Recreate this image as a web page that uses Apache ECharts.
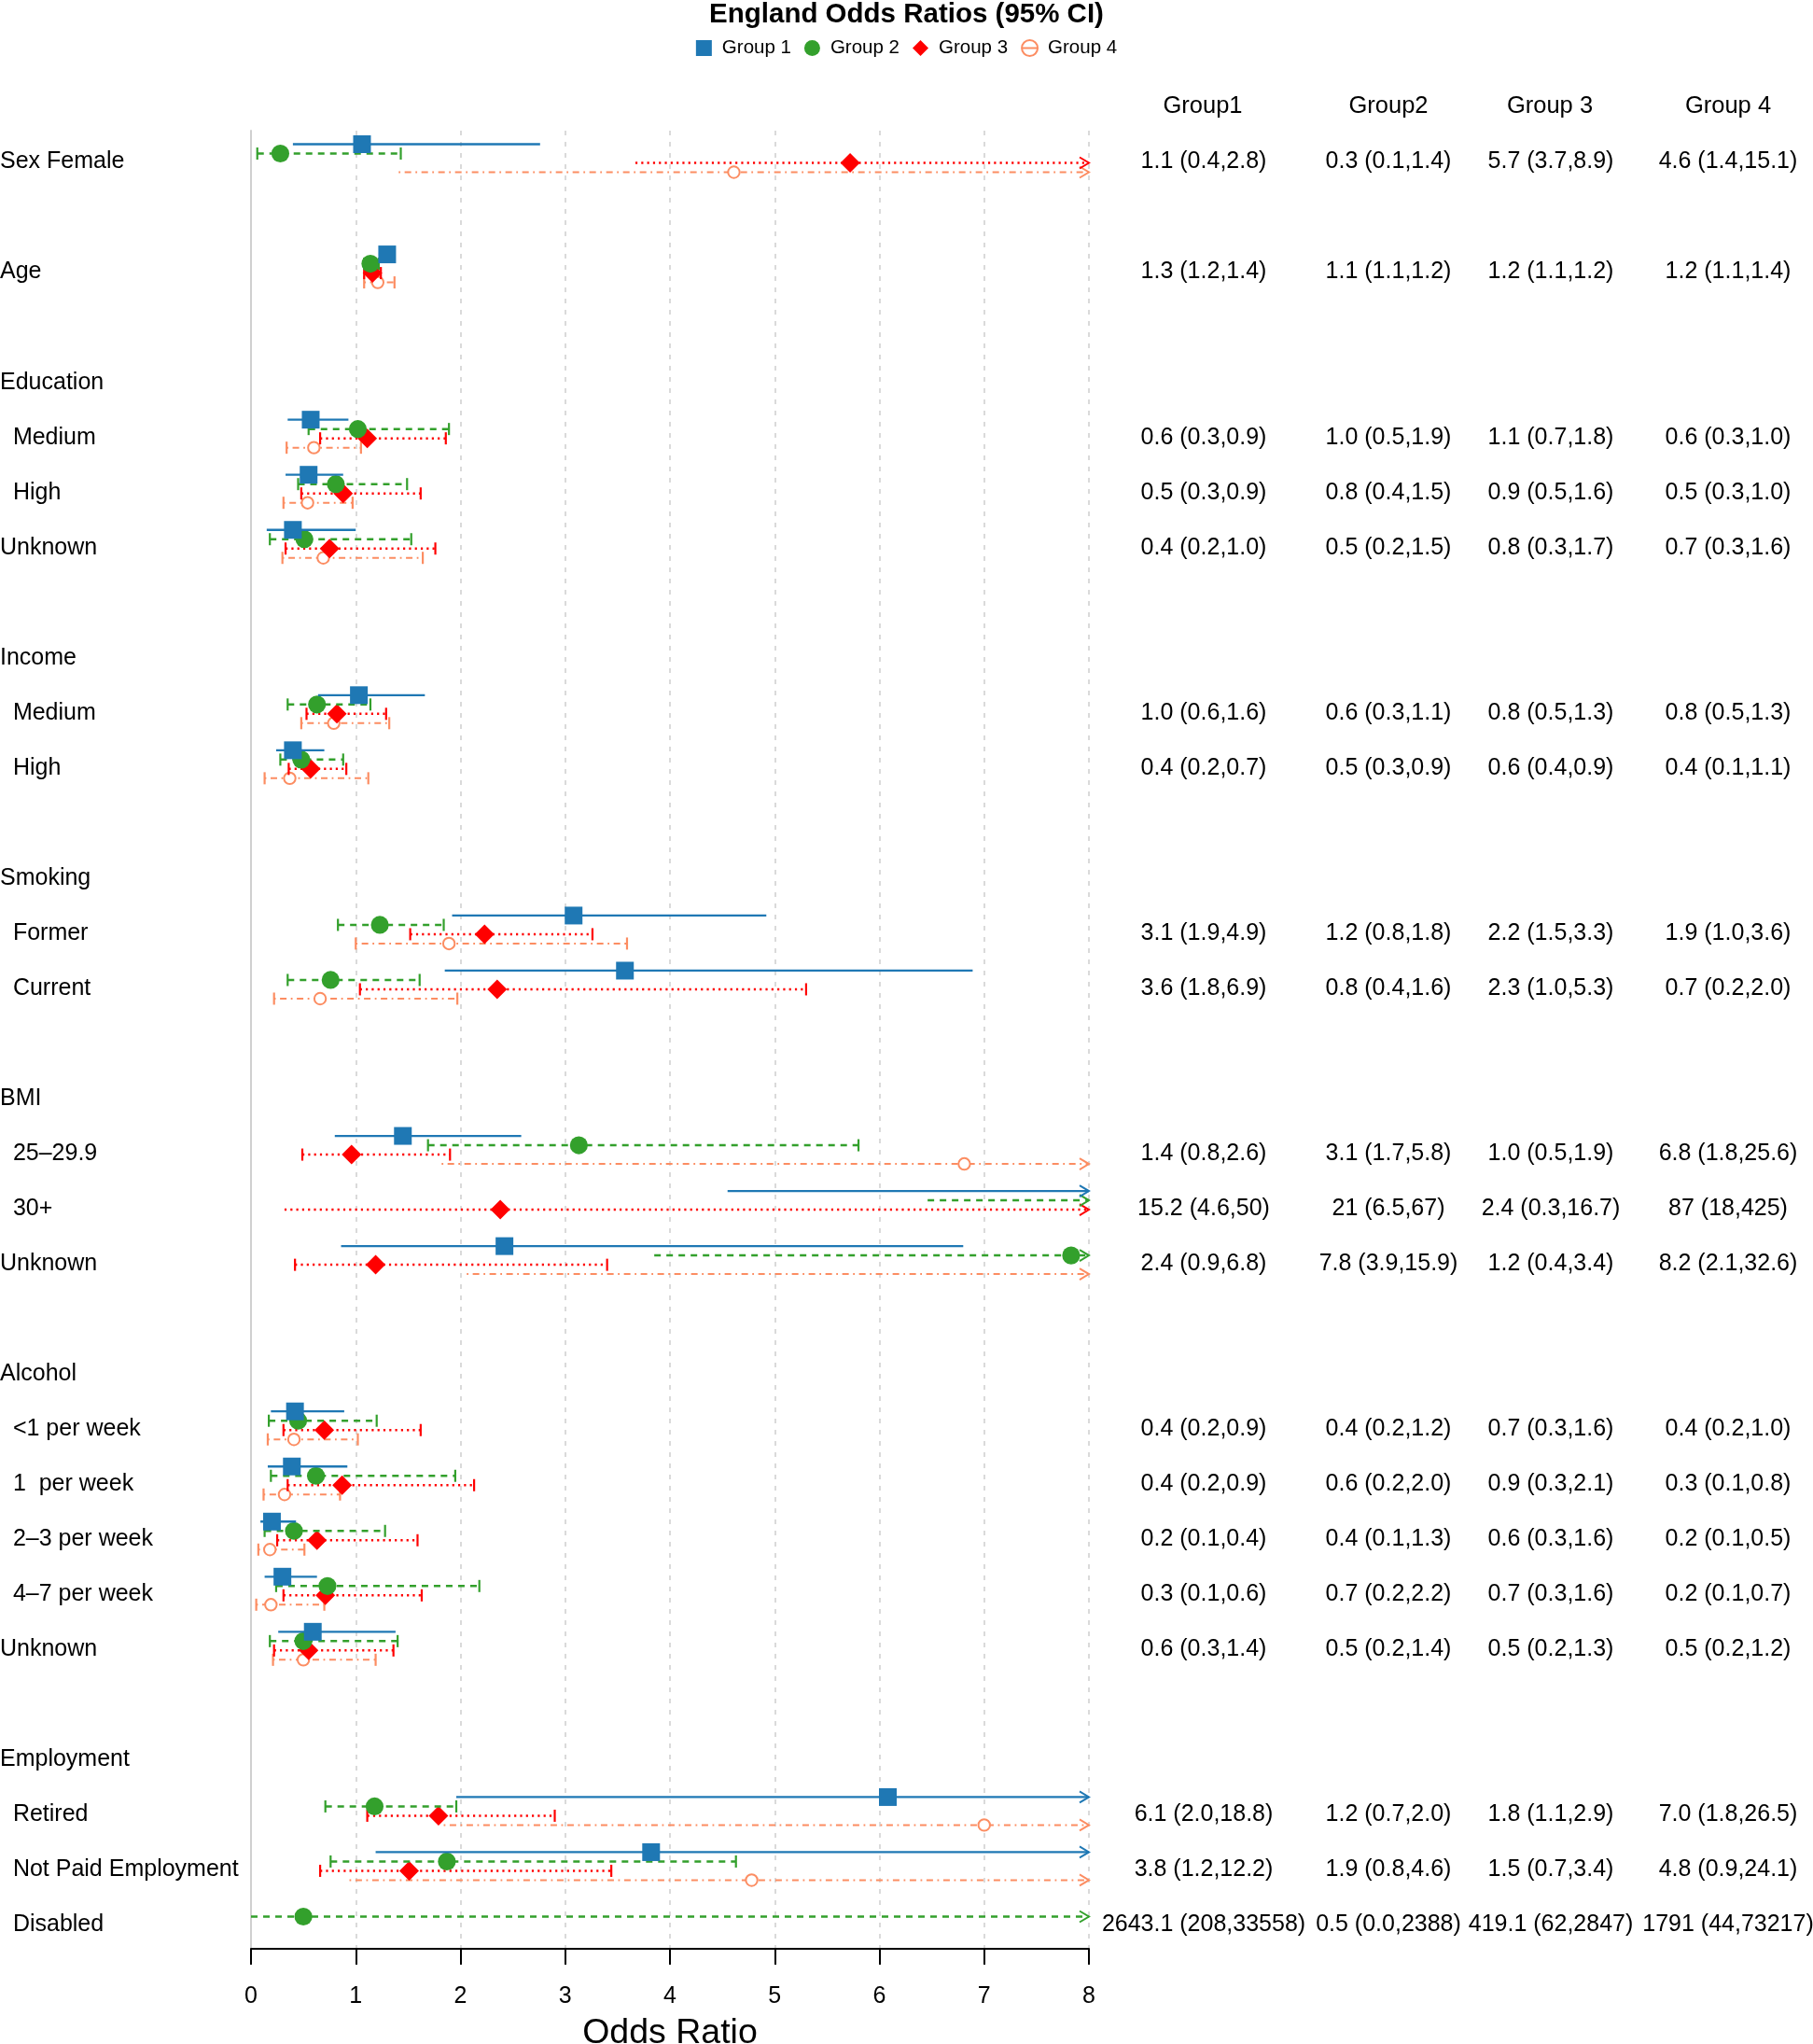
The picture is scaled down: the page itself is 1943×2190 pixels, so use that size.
<!DOCTYPE html>
<html><head><meta charset="utf-8">
<script src="https://cdn.jsdelivr.net/npm/echarts@6/dist/echarts.min.js"></script>
<style>html,body{margin:0;padding:0;background:#fff;overflow:hidden}#c{width:1943px;height:2190px}</style>
</head><body><div id="c"></div>
<script>
// ---------- DATA ----------
const rowLabels = ['Sex Female','','Age','','Education','  Medium','  High','Unknown','','Income','  Medium','  High','','Smoking','  Former','  Current','','BMI','  25\u201329.9','  30+','Unknown','','Alcohol','  <1 per week','  1  per week','  2\u20133 per week','  4\u20137 per week','Unknown','','Employment','  Retired','  Not Paid Employment','  Disabled'];
const groupNames = ['Group 1','Group 2','Group 3','Group 4'];
const tableHeaders = ['Group1','Group2','Group 3','Group 4'];
const xTicks = [0,1,2,3,4,5,6,7,8];

const g1Est = [1.06,null,1.30,null,null,0.57,0.55,0.40,null,null,1.03,0.40,null,null,3.08,3.57,null,null,1.45,15.2,2.42,null,null,0.42,0.39,0.20,0.30,0.59,null,null,6.08,3.82,2643.1];
const g1Lo  = [0.40,null,1.22,null,null,0.35,0.33,0.15,null,null,0.64,0.24,null,null,1.92,1.85,null,null,0.80,4.55,0.86,null,null,0.19,0.16,0.09,0.13,0.26,null,null,1.96,1.19,208];
const g1Hi  = [2.76,null,1.38,null,null,0.93,0.88,1.00,null,null,1.66,0.70,null,null,4.92,6.89,null,null,2.58,50,6.80,null,null,0.89,0.92,0.43,0.63,1.38,null,null,18.8,12.2,33558];

const g2Est = [0.28,null,1.14,null,null,1.02,0.81,0.51,null,null,0.63,0.48,null,null,1.23,0.76,null,null,3.13,21,7.83,null,null,0.45,0.62,0.41,0.73,0.50,null,null,1.18,1.87,0.50];
const g2Lo  = [0.06,null,1.08,null,null,0.55,0.45,0.18,null,null,0.35,0.28,null,null,0.83,0.35,null,null,1.69,6.46,3.85,null,null,0.17,0.19,0.13,0.24,0.18,null,null,0.71,0.76,0.0];
const g2Hi  = [1.43,null,1.22,null,null,1.89,1.49,1.53,null,null,1.14,0.88,null,null,1.84,1.61,null,null,5.80,67,15.9,null,null,1.20,1.95,1.28,2.18,1.40,null,null,1.96,4.63,2388];

const g3Est = [5.72,null,1.16,null,null,1.11,0.88,0.75,null,null,0.82,0.57,null,null,2.23,2.35,null,null,0.96,2.38,1.19,null,null,0.70,0.87,0.63,0.71,0.55,null,null,1.79,1.51,419.1];
const g3Lo  = [3.67,null,1.08,null,null,0.66,0.48,0.33,null,null,0.53,0.36,null,null,1.52,1.04,null,null,0.49,0.32,0.42,null,null,0.31,0.35,0.25,0.31,0.22,null,null,1.11,0.66,62];
const g3Hi  = [8.9,null,1.24,null,null,1.86,1.62,1.76,null,null,1.29,0.91,null,null,3.26,5.30,null,null,1.90,16.7,3.40,null,null,1.62,2.13,1.59,1.63,1.36,null,null,2.90,3.44,2847];

const g4Est = [4.61,null,1.21,null,null,0.60,0.54,0.69,null,null,0.79,0.37,null,null,1.89,0.66,null,null,6.81,87,8.2,null,null,0.41,0.32,0.18,0.19,0.50,null,null,7.00,4.78,1791];
const g4Lo  = [1.41,null,1.08,null,null,0.34,0.31,0.30,null,null,0.48,0.13,null,null,1.00,0.22,null,null,1.82,18,2.06,null,null,0.16,0.12,0.07,0.05,0.21,null,null,1.84,0.94,44];
const g4Hi  = [15.1,null,1.37,null,null,1.05,0.97,1.64,null,null,1.32,1.12,null,null,3.59,1.97,null,null,25.6,425,32.6,null,null,1.02,0.85,0.51,0.70,1.19,null,null,26.5,24.1,73217];

const col1 = ['1.1 (0.4,2.8)','','1.3 (1.2,1.4)','','','0.6 (0.3,0.9)','0.5 (0.3,0.9)','0.4 (0.2,1.0)','','','1.0 (0.6,1.6)','0.4 (0.2,0.7)','','','3.1 (1.9,4.9)','3.6 (1.8,6.9)','','','1.4 (0.8,2.6)','15.2 (4.6,50)','2.4 (0.9,6.8)','','','0.4 (0.2,0.9)','0.4 (0.2,0.9)','0.2 (0.1,0.4)','0.3 (0.1,0.6)','0.6 (0.3,1.4)','','','6.1 (2.0,18.8)','3.8 (1.2,12.2)','2643.1 (208,33558)'];
const col2 = ['0.3 (0.1,1.4)','','1.1 (1.1,1.2)','','','1.0 (0.5,1.9)','0.8 (0.4,1.5)','0.5 (0.2,1.5)','','','0.6 (0.3,1.1)','0.5 (0.3,0.9)','','','1.2 (0.8,1.8)','0.8 (0.4,1.6)','','','3.1 (1.7,5.8)','21 (6.5,67)','7.8 (3.9,15.9)','','','0.4 (0.2,1.2)','0.6 (0.2,2.0)','0.4 (0.1,1.3)','0.7 (0.2,2.2)','0.5 (0.2,1.4)','','','1.2 (0.7,2.0)','1.9 (0.8,4.6)','0.5 (0.0,2388)'];
const col3 = ['5.7 (3.7,8.9)','','1.2 (1.1,1.2)','','','1.1 (0.7,1.8)','0.9 (0.5,1.6)','0.8 (0.3,1.7)','','','0.8 (0.5,1.3)','0.6 (0.4,0.9)','','','2.2 (1.5,3.3)','2.3 (1.0,5.3)','','','1.0 (0.5,1.9)','2.4 (0.3,16.7)','1.2 (0.4,3.4)','','','0.7 (0.3,1.6)','0.9 (0.3,2.1)','0.6 (0.3,1.6)','0.7 (0.3,1.6)','0.5 (0.2,1.3)','','','1.8 (1.1,2.9)','1.5 (0.7,3.4)','419.1 (62,2847)'];
const col4 = ['4.6 (1.4,15.1)','','1.2 (1.1,1.4)','','','0.6 (0.3,1.0)','0.5 (0.3,1.0)','0.7 (0.3,1.6)','','','0.8 (0.5,1.3)','0.4 (0.1,1.1)','','','1.9 (1.0,3.6)','0.7 (0.2,2.0)','','','6.8 (1.8,25.6)','87 (18,425)','8.2 (2.1,32.6)','','','0.4 (0.2,1.0)','0.3 (0.1,0.8)','0.2 (0.1,0.5)','0.2 (0.1,0.7)','0.5 (0.2,1.2)','','','7.0 (1.8,26.5)','4.8 (0.9,24.1)','1791 (44,73217)'];

// ---------- STYLE ----------
const FONT = '"Liberation Sans", Arial, Helvetica, sans-serif';
const COLORS = ['#1F78B4','#33A02C','#FF0000','#FC8D62'];
const LW = [2.3, 2.5, 2.5, 2];
const DASH = [null, [7,6], [2.2,4.1], [1.8,4.6,7,4.6]];
const CAPS = [false, true, true, true];
const XMAX = 8;
const NROWS = rowLabels.length;
const OFFSET_STEP = 0.1694;
const GRID = {left:269, right:776, top:140, bottom:102};
const TEXT_DY = 4;
const COL_CENTERS = [1290, 1488, 1662, 1852];
const HEAD_CENTERS = [1289, 1488, 1661, 1852];
const PLOT_RIGHT = 1943 - GRID.right;

const groups = [
  {est:g1Est, lo:g1Lo, hi:g1Hi},
  {est:g2Est, lo:g2Lo, hi:g2Hi},
  {est:g3Est, lo:g3Lo, hi:g3Hi},
  {est:g4Est, lo:g4Lo, hi:g4Hi}
];

function makeRender(g) {
  const color = COLORS[g];
  return function (params, api) {
    const row = api.value(0), est = api.value(1), lo = api.value(2), hi = api.value(3);
    const yv = row + (g - 1.5) * OFFSET_STEP;
    const children = [];
    const lineStyle = {stroke: color, lineWidth: LW[g], fill: null};
    if (DASH[g]) lineStyle.lineDash = DASH[g];
    if (lo <= XMAX) {
      const p1 = api.coord([Math.max(lo, 0), yv]);
      const p2 = api.coord([Math.min(hi, XMAX), yv]);
      children.push({type:'line', shape:{x1:p1[0], y1:p1[1], x2:p2[0], y2:p2[1]}, style: lineStyle});
      if (hi > XMAX) {
        children.push({type:'polyline', shape:{points:[[p2[0]-10, p2[1]-6],[p2[0], p2[1]],[p2[0]-10, p2[1]+6]]},
          style:{stroke: color, lineWidth: 2, fill: null}});
      } else if (CAPS[g]) {
        [p1, p2].forEach(function (p) {
          children.push({type:'line', shape:{x1:p[0], y1:p[1]-6.5, x2:p[0], y2:p[1]+6.5},
            style:{stroke: color, lineWidth: 2.2}});
        });
      }
    }
    if (est <= XMAX) {
      const c = api.coord([est, yv]);
      if (g === 0) {
        children.push({type:'rect', shape:{x:c[0]-9.5, y:c[1]-9.5, width:19, height:19}, style:{fill: color}});
      } else if (g === 1) {
        children.push({type:'circle', shape:{cx:c[0], cy:c[1], r:9.6}, style:{fill: color}});
      } else if (g === 2) {
        children.push({type:'polygon', shape:{points:[[c[0], c[1]-10.5],[c[0]+10.5, c[1]],[c[0], c[1]+10.5],[c[0]-10.5, c[1]]]}, style:{fill: color}});
      } else {
        children.push({type:'circle', shape:{cx:c[0], cy:c[1], r:6.2}, style:{fill: '#fff', stroke: color, lineWidth: 2}});
      }
    }
    return {type:'group', children: children};
  };
}

const series = [];
for (let g = 3; g >= 0; g--) {
  const d = [];
  for (let i = 0; i < NROWS; i++) {
    if (groups[g].est[i] != null) d.push([i, groups[g].est[i], groups[g].lo[i], groups[g].hi[i]]);
  }
  series.push({
    type:'custom', name: groupNames[g], coordinateSystem:'cartesian2d',
    xAxisIndex:0, yAxisIndex:0, clip:false, silent:true,
    itemStyle:{color: COLORS[g]},
    dimensions:['row','est','lo','hi'], encode:{x:1, y:0},
    renderItem: makeRender(g), data: d
  });
}

const cols = [col1, col2, col3, col4];
const yAxes = [
  {type:'value', gridIndex:0, min:-0.5, max:NROWS-0.5, inverse:true, position:'left',
   axisLine:{show:true, onZero:false, lineStyle:{color:'#d0d0d0', width:2}},
   axisTick:{show:false}, axisLabel:{show:false}, splitLine:{show:false}},
  {type:'category', gridIndex:1, data: rowLabels, inverse:true, position:'left',
   axisLine:{show:false}, axisTick:{show:false}, splitLine:{show:false},
   axisLabel:{interval:0, align:'left', margin: GRID.left, fontSize:25, color:'#000', fontFamily: FONT, hideOverlap:false}}
];
cols.forEach(function (c, k) {
  yAxes.push({type:'category', gridIndex:1, data: c, inverse:true, position:'right', offset: COL_CENTERS[k] - PLOT_RIGHT,
    axisLine:{show:false}, axisTick:{show:false}, splitLine:{show:false},
    axisLabel:{interval:0, align:'center', margin:0, fontSize:25, color:'#000', fontFamily: FONT, hideOverlap:false}});
});

const headerGraphics = tableHeaders.map(function (t, k) {
  return {type:'text', x: HEAD_CENTERS[k], y: 113.5,
    style:{text: t, fontSize:25.5, fontFamily: FONT, fill:'#000', align:'center', verticalAlign:'middle'}};
});

const chart = echarts.init(document.getElementById('c'), null, {renderer:'canvas'});
chart.setOption({
  backgroundColor:'#fff',
  animation:false,
  title:{text:'England Odds Ratios (95% CI)', left:'center', top:1, padding:0,
    textStyle:{fontSize:29.5, fontWeight:'bold', color:'#000', fontFamily: FONT}},
  legend:{
    top:41, left:'center', padding:0, itemGap:14, itemWidth:17, itemHeight:17,
    textStyle:{fontSize:20.5, color:'#000', fontFamily: FONT, padding:[0,0,0,6]},
    data:[
      {name:'Group 1', icon:'rect', itemStyle:{color: COLORS[0]}},
      {name:'Group 2', icon:'circle', itemStyle:{color: COLORS[1]}},
      {name:'Group 3', icon:'diamond', itemStyle:{color: COLORS[2]}},
      {name:'Group 4', icon:'path://M2,10A8,8 0 1,1 18,10A8,8 0 1,1 2,10Z M2,10L18,10',
        itemStyle:{color:'rgba(0,0,0,0)', borderColor: COLORS[3], borderWidth:2}}
    ]
  },
  grid:[
    {left:GRID.left, right:GRID.right, top:GRID.top, bottom:GRID.bottom, containLabel:false, outerBoundsMode:'none'},
    {left:GRID.left, right:GRID.right, top:GRID.top + TEXT_DY, bottom:GRID.bottom - TEXT_DY, containLabel:false, outerBoundsMode:'none'}
  ],
  xAxis:[
    {type:'value', gridIndex:0, min:xTicks[0], max:xTicks[xTicks.length-1], interval:1,
    axisLine:{show:true, onZero:false, lineStyle:{color:'#000', width:2}},
    axisTick:{show:true, length:17, lineStyle:{color:'#000', width:2}},
    axisLabel:{fontSize:25, color:'#000', margin:39, fontFamily: FONT},
    splitLine:{show:true, lineStyle:{color:'#dadada', width:2, type:[5,7]}},
    name:'Odds Ratio', nameLocation:'middle', nameGap:72,
    nameTextStyle:{fontSize:37.5, color:'#000', fontFamily: FONT}},
    {type:'value', gridIndex:1, min:0, max:8, show:false}
  ],
  yAxis: yAxes,
  graphic: headerGraphics,
  series: series
});
</script></body></html>
